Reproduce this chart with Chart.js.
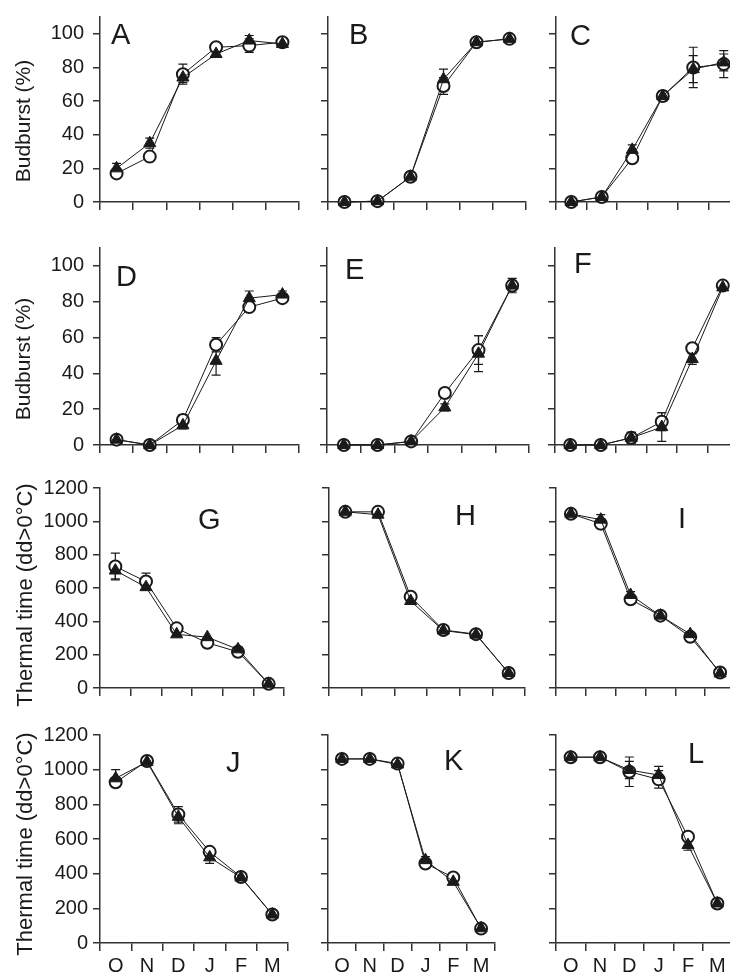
<!DOCTYPE html>
<html>
<head>
<meta charset="utf-8">
<script src="https://cdn.jsdelivr.net/npm/chart.js@4.4.0/dist/chart.umd.min.js"></script>
<style>
  html, body { margin: 0; padding: 0; background: #fff; }
  #fig { position: relative; width: 730px; height: 977px; overflow: hidden; }
  #fig canvas { position: absolute; }
</style>
</head>
<body>
<div id="fig"></div>
<script>
// months on the x axis
const months = ['O', 'N', 'D', 'J', 'F', 'M'];
const budTicks = [0, 20, 40, 60, 80, 100];
const thermalTicks = [0, 200, 400, 600, 800, 1000, 1200];

// budburst (%) - open circles / filled triangles, with +/- errors
const aCircle = [17, 27, 76, 92, 93, 95];
const aCircleErr = [0, 0, 6, 0, 4, 0];
const aTri = [20, 35, 74, 88, 96, 94];
const aTriErr = [3, 3, 3, 0, 3, 0];

const bCircle = [0, 0.5, 15, 69, 95, 97];
const bCircleErr = [0, 0, 0, 5, 0, 0];
const bTri = [0, 0.5, 15, 73, 95, 97];
const bTriErr = [0, 0, 0, 6, 0, 0];

const cCircle = [0, 3, 26, 63, 80, 82];
const cCircleErr = [0, 0, 0, 3, 12, 8];
const cTri = [0, 3, 31, 63, 79, 83];
const cTriErr = [0, 0, 3, 2, 8, 5];

const dCircle = [3, 0, 14, 56, 77, 82];
const dCircleErr = [0, 0, 3, 4, 0, 0];
const dTri = [3, 0, 11, 47, 82, 84];
const dTriErr = [0, 0, 2, 8, 4, 2];

const eCircle = [0, 0, 2, 29, 53, 89];
const eCircleErr = [0, 0, 0, 0, 8, 4];
const eTri = [0, 0, 2, 21, 51, 89];
const eTriErr = [0, 0, 0, 2, 10, 3];

const fCircle = [0, 0, 4, 13, 54, 89];
const fCircleErr = [0, 0, 3, 5, 0, 1];
const fTri = [0, 0, 4, 10, 48, 88];
const fTriErr = [0, 0, 3, 8, 3, 1];

// thermal time (dd>0°C)
const gCircle = [729, 639, 358, 271, 217, 25];
const gCircleErr = [80, 50, 0, 0, 0, 0];
const gTri = [705, 605, 322, 305, 232, 25];
const gTriErr = [50, 0, 0, 0, 15, 0];

const hCircle = [1057, 1057, 548, 348, 323, 90];
const hCircleErr = [0, 0, 20, 0, 0, 0];
const hTri = [1057, 1040, 522, 345, 320, 90];
const hTriErr = [0, 0, 0, 0, 0, 0];

const iCircle = [1045, 986, 532, 434, 307, 93];
const iCircleErr = [0, 30, 0, 0, 0, 0];
const iTri = [1045, 1010, 558, 434, 323, 88];
const iTriErr = [0, 30, 20, 0, 0, 0];

const jCircle = [927, 1050, 742, 526, 381, 164];
const jCircleErr = [0, 0, 45, 0, 0, 0];
const jTri = [950, 1045, 728, 494, 378, 164];
const jTriErr = [50, 0, 40, 35, 0, 0];

const kCircle = [1062, 1062, 1035, 459, 378, 83];
const kCircleErr = [0, 0, 0, 20, 0, 0];
const kTri = [1062, 1062, 1030, 478, 353, 85];
const kTriErr = [0, 0, 0, 20, 0, 0];

const lCircle = [1072, 1072, 988, 944, 613, 228];
const lCircleErr = [0, 0, 85, 50, 0, 0];
const lTri = [1072, 1072, 998, 969, 565, 228];
const lTriErr = [0, 0, 50, 50, 30, 0];

const budTitle = 'Budburst (%)';
const thermalTitle = 'Thermal time (dd>0\u00B0C)';

// layout of the figure (page pixels)
const FONT = '"Liberation Sans", Arial, Helvetica, sans-serif';
const INK = '#1a1a1a';
const AXIS = '#333';
const rowBox = [
  { T: 17, B: 202, padB: 14, title: budTitle, tx: 24, ty: 121, ts: 21 },
  { T: 248, B: 445, padB: 14, title: budTitle, tx: 24, ty: 359, ts: 21 },
  { T: 488, B: 688, padB: 26, title: thermalTitle, tx: 26, ty: 595, ts: 22 },
  { T: 735, B: 943, padB: 40, title: thermalTitle, tx: 26, ty: 844, ts: 22 }
];

const panels = [
  { letter: 'A', row: 0, L: 100, R: 299, lx: 111, ly: 44, c: aCircle, ce: aCircleErr, t: aTri, te: aTriErr },
  { letter: 'B', row: 0, L: 328, R: 526, lx: 349, ly: 44, c: bCircle, ce: bCircleErr, t: bTri, te: bTriErr },
  { letter: 'C', row: 0, L: 556, R: 739, lx: 570, ly: 45, c: cCircle, ce: cCircleErr, t: cTri, te: cTriErr },
  { letter: 'D', row: 1, L: 100, R: 299, lx: 116, ly: 286, c: dCircle, ce: dCircleErr, t: dTri, te: dTriErr },
  { letter: 'E', row: 1, L: 327, R: 529, lx: 345, ly: 279, c: eCircle, ce: eCircleErr, t: eTri, te: eTriErr },
  { letter: 'F', row: 1, L: 555, R: 738, lx: 574, ly: 273, c: fCircle, ce: fCircleErr, t: fTri, te: fTriErr },
  { letter: 'G', row: 2, L: 100, R: 284, lx: 198, ly: 529, c: gCircle, ce: gCircleErr, t: gTri, te: gTriErr },
  { letter: 'H', row: 2, L: 329, R: 525, lx: 455, ly: 525, c: hCircle, ce: hCircleErr, t: hTri, te: hTriErr },
  { letter: 'I', row: 2, L: 556, R: 735, lx: 678, ly: 528, c: iCircle, ce: iCircleErr, t: iTri, te: iTriErr },
  { letter: 'J', row: 3, L: 100, R: 288, lx: 226, ly: 772, c: jCircle, ce: jCircleErr, t: jTri, te: jTriErr },
  { letter: 'K', row: 3, L: 328, R: 495, lx: 444, ly: 770, c: kCircle, ce: kCircleErr, t: kTri, te: kTriErr },
  { letter: 'L', row: 3, L: 556, R: 732, lx: 688, ly: 763, c: lCircle, ce: lCircleErr, t: lTri, te: lTriErr }
];

// vertical error bars with caps, drawn under the markers
const errorBars = {
  id: 'errorBars',
  beforeDatasetsDraw(chart) {
    const ctx = chart.ctx;
    const y = chart.scales.y;
    ctx.save();
    ctx.strokeStyle = INK;
    ctx.lineWidth = 1.2;
    chart.data.datasets.forEach((ds, i) => {
      const meta = chart.getDatasetMeta(i);
      meta.data.forEach((pt, j) => {
        const e = ds.errors[j];
        if (!e) return;
        const v = ds.data[j];
        const top = y.getPixelForValue(v + e);
        const bot = y.getPixelForValue(v - e);
        ctx.beginPath();
        ctx.moveTo(pt.x, top); ctx.lineTo(pt.x, bot);
        ctx.moveTo(pt.x - 4.5, top); ctx.lineTo(pt.x + 4.5, top);
        ctx.moveTo(pt.x - 4.5, bot); ctx.lineTo(pt.x + 4.5, bot);
        ctx.stroke();
      });
    });
    ctx.restore();
  }
};

// panel letter and (left column) y-axis title
const panelText = {
  id: 'panelText',
  afterDraw(chart, args, opts) {
    const ctx = chart.ctx;
    ctx.save();
    ctx.fillStyle = INK;
    ctx.font = '29px ' + FONT;
    ctx.textAlign = 'left';
    ctx.textBaseline = 'alphabetic';
    ctx.fillText(opts.letter, opts.lx - opts.ox, opts.ly - opts.oy);
    if (opts.title) {
      ctx.translate(opts.tx - opts.ox, opts.ty - opts.oy);
      ctx.rotate(-Math.PI / 2);
      ctx.font = opts.ts + 'px ' + FONT;
      ctx.textAlign = 'center';
      ctx.textBaseline = 'middle';
      ctx.fillText(opts.title, 0, 0);
    }
    ctx.restore();
  }
};

function makePanel(p) {
  const row = rowBox[p.row];
  const isBud = p.row < 2;
  const leftCol = p.L === 100;
  const bottomRow = p.row === 3;
  const padL = leftCol ? p.L : 22;
  const padR = 10, padT = 12;
  const padB = row.padB;
  const ox = p.L - padL, oy = row.T - padT;
  const w = p.R - p.L + padL + padR;
  const h = row.B - row.T + padT + padB;

  const canvas = document.createElement('canvas');
  canvas.width = w; canvas.height = h;
  canvas.style.left = ox + 'px'; canvas.style.top = oy + 'px';
  canvas.style.width = w + 'px'; canvas.style.height = h + 'px';
  document.getElementById('fig').appendChild(canvas);

  const tickList = isBud ? budTicks : thermalTicks;

  new Chart(canvas, {
    type: 'line',
    data: {
      labels: months,
      datasets: [
        {
          data: p.t, errors: p.te, order: 0,
          borderColor: INK, borderWidth: 1, tension: 0, clip: false,
          pointStyle: 'triangle', pointRadius: 7, pointBackgroundColor: INK,
          pointBorderColor: INK, pointBorderWidth: 1
        },
        {
          data: p.c, errors: p.ce, order: 1,
          borderColor: INK, borderWidth: 1, tension: 0, clip: false,
          pointStyle: 'circle', pointRadius: 6, pointBackgroundColor: '#fff',
          pointBorderColor: INK, pointBorderWidth: 2
        }
      ]
    },
    options: {
      responsive: false,
      animation: false,
      devicePixelRatio: 1,
      layout: { autoPadding: false, padding: { top: padT, right: padR, left: 0, bottom: 0 } },
      plugins: {
        legend: { display: false },
        tooltip: { enabled: false },
        panelText: {
          letter: p.letter, lx: p.lx, ly: p.ly, ox: ox, oy: oy,
          title: leftCol ? row.title : '', tx: row.tx, ty: row.ty, ts: row.ts
        }
      },
      scales: {
        x: {
          type: 'category',
          offset: true,
          grid: { offset: true, drawOnChartArea: false, drawTicks: true, tickLength: 8, color: AXIS, lineWidth: 1.5 },
          border: { display: true, color: AXIS, width: 1.5 },
          ticks: { display: bottomRow, color: INK, font: { family: FONT, size: 20 }, padding: 3, maxRotation: 0, autoSkip: false },
          afterFit(s) { s.height = padB; s.paddingLeft = 0; s.paddingRight = 0; }
        },
        y: {
          min: 0,
          max: isBud ? 110 : 1200,
          afterBuildTicks(s) { s.ticks = tickList.map(v => ({ value: v })); },
          grid: { drawOnChartArea: false, drawTicks: true, tickLength: 7, color: AXIS, lineWidth: 1.5 },
          border: { display: true, color: AXIS, width: 1.5 },
          ticks: { display: leftCol, color: INK, font: { family: FONT, size: 20 }, padding: isBud ? 9 : 5, callback: v => String(v) },
          afterFit(s) { s.width = padL; s.paddingTop = 0; s.paddingBottom = 0; }
        }
      }
    },
    plugins: [errorBars, panelText]
  });
}

panels.forEach(makePanel);
</script>
</body>
</html>
